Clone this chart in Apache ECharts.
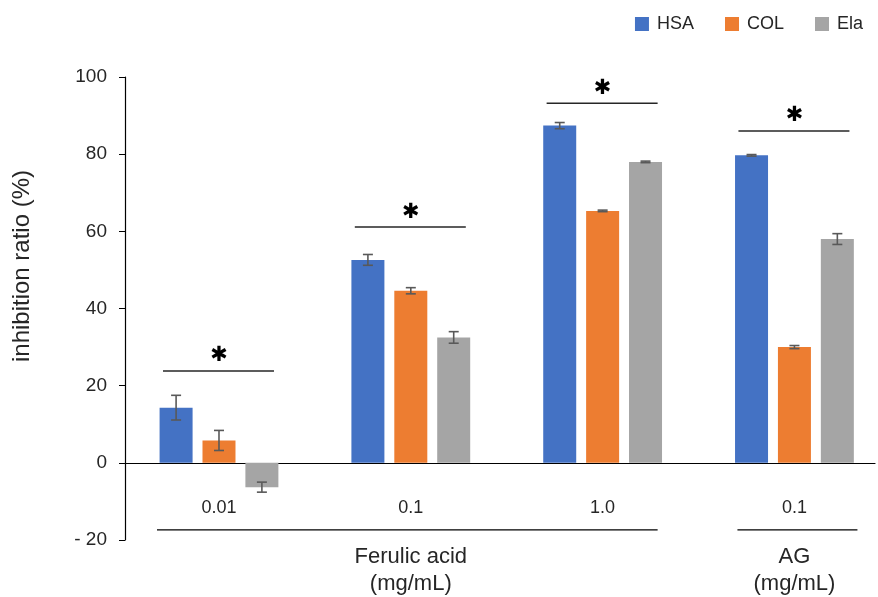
<!DOCTYPE html>
<html>
<head>
<meta charset="utf-8">
<script src="https://cdn.jsdelivr.net/npm/echarts@6/dist/echarts.min.js"></script>
<style>
  html, body { margin: 0; padding: 0; background: #fff; }
  #chart { width: 878px; height: 597px; }
</style>
</head>
<body>
<div id="chart"></div>
<script>
// data
const groups = [0, 1, 2, 3];
const doseLabels = ['0.01', '0.1', '1.0', '0.1'];
const seriesNames = ['HSA', 'COL', 'Ela'];
const hsa = [14.3, 52.6, 87.4, 79.7];
const hsaErr = [3.2, 1.4, 0.8, 0.2];
const col = [5.8, 44.6, 65.3, 30.0];
const colErr = [2.6, 0.8, 0.2, 0.4];
const ela = [-6.3, 32.5, 78.0, 58.0];
const elaErr = [1.3, 1.5, 0.2, 1.4];
const sigLevels = [23.8, 61.1, 93.2, 86.0];

const font = "'Liberation Sans', Arial, sans-serif";
const colors = ['#4472C4', '#ED7D31', '#A5A5A5'];
const BAR_W = 33;
const BAR_GAP = 0.3;

const values = [hsa, col, ela];
const errs = [hsaErr, colErr, elaErr];

// error bar points: [group, value, err, series index]
const errData = [];
values.forEach((arr, s) => {
  arr.forEach((v, i) => errData.push([groups[i], v, errs[s][i], s]));
});

const chart = echarts.init(document.getElementById('chart'));

const option = {
  backgroundColor: '#fff',
  animation: false,
  color: colors,
  textStyle: { fontFamily: font },
  legend: {
    data: seriesNames,
    top: 10,
    right: 10,
    itemWidth: 14,
    itemHeight: 14,
    itemGap: 31,
    icon: 'rect',
    textStyle: { fontSize: 18, color: '#262626', fontFamily: font, padding: [0, 0, 0, 3] }
  },
  grid: {
    left: 125,
    top: 77,
    right: 3,
    bottom: 57
  },
  xAxis: {
    type: 'value',
    min: -0.49,
    max: 3.42,
    axisLine: { onZero: true, lineStyle: { color: '#000', width: 1.2 } },
    axisTick: { show: false },
    axisLabel: { show: false },
    splitLine: { show: false }
  },
  yAxis: {
    type: 'value',
    min: -20,
    max: 100,
    interval: 20,
    axisLine: { show: true, onZero: false, lineStyle: { color: '#000', width: 1.2 } },
    axisTick: { show: true, inside: false, length: 6, lineStyle: { color: '#000' } },
    axisLabel: {
      fontSize: 19,
      color: '#262626',
      fontFamily: font,
      margin: 18,
      formatter: v => (v < 0 ? '- ' + Math.abs(v) : String(v))
    },
    splitLine: { show: false }
  },
  series: [
    ...seriesNames.map((name, s) => ({
      name: name,
      type: 'bar',
      data: values[s].map((v, i) => [groups[i], v]),
      barWidth: BAR_W,
      barGap: (BAR_GAP * 100) + '%',
      itemStyle: { color: colors[s] }
    })),
    {
      name: 'err',
      type: 'custom',
      data: errData,
      z: 5,
      renderItem: function (params, api) {
        const i = api.value(0), v = api.value(1), e = api.value(2), s = api.value(3);
        const off = (s - 1) * BAR_W * (1 + BAR_GAP);
        const top = api.coord([i, v + e]);
        const bot = api.coord([i, v - e]);
        const x = top[0] + off;
        const cap = 5;
        const st = { stroke: '#595959', lineWidth: 1.6 };
        return {
          type: 'group',
          children: [
            { type: 'line', shape: { x1: x, y1: top[1], x2: x, y2: bot[1] }, style: st },
            { type: 'line', shape: { x1: x - cap, y1: top[1], x2: x + cap, y2: top[1] }, style: st },
            { type: 'line', shape: { x1: x - cap, y1: bot[1], x2: x + cap, y2: bot[1] }, style: st }
          ]
        };
      }
    },
    {
      name: 'sig',
      type: 'custom',
      data: sigLevels.map((v, i) => [groups[i], v]),
      z: 5,
      renderItem: function (params, api) {
        const p = api.coord([api.value(0), api.value(1)]);
        return {
          type: 'group',
          children: [
            { type: 'line', shape: { x1: p[0] - 56, y1: p[1], x2: p[0] + 55, y2: p[1] },
              style: { stroke: '#262626', lineWidth: 1.5 } },
            { type: 'text', x: p[0], y: p[1] - 15,
              style: { text: '\u2731', fontSize: 21, fill: '#000',
                       fontFamily: "'DejaVu Sans', sans-serif", align: 'center', verticalAlign: 'middle' } }
          ]
        };
      }
    },
    {
      // dose labels under the zero line
      name: 'dose',
      type: 'custom',
      data: groups.map(g => [g, 0]),
      silent: true,
      clip: false,
      renderItem: function (params, api) {
        const p = api.coord([api.value(0), 0]);
        return {
          type: 'text', x: p[0], y: p[1] + 45,
          style: { text: doseLabels[params.dataIndex], fontSize: 18, fill: '#262626',
                   fontFamily: font, align: 'center', verticalAlign: 'middle' }
        };
      }
    }
  ]
};

chart.setOption(option);

// group brackets under the dose labels
function px(i, v) { return chart.convertToPixel({ gridIndex: 0 }, [i, v]); }
const yBracket = px(0, -17.4)[1];
const faL = px(0, 0)[0] - 62, faR = px(2, 0)[0] + 55;
const agL = px(3, 0)[0] - 57, agR = px(3, 0)[0] + 63;
const groupText = { fontSize: 22, fill: '#262626', fontFamily: font, align: 'center', verticalAlign: 'top', lineHeight: 27 };

chart.setOption({
  graphic: [
    { type: 'line', shape: { x1: faL, y1: yBracket, x2: faR, y2: yBracket }, style: { stroke: '#000', lineWidth: 1.2 } },
    { type: 'line', shape: { x1: agL, y1: yBracket, x2: agR, y2: yBracket }, style: { stroke: '#000', lineWidth: 1.2 } },
    { type: 'text', x: px(1, 0)[0], y: yBracket + 13, style: Object.assign({ text: 'Ferulic acid\n(mg/mL)' }, groupText) },
    { type: 'text', x: px(3, 0)[0], y: yBracket + 13, style: Object.assign({ text: 'AG\n(mg/mL)' }, groupText) },
    { type: 'text', x: 22, y: 266, rotation: Math.PI / 2,
      style: { text: 'inhibition ratio (%)', fontSize: 24, fill: '#262626', fontFamily: font, align: 'center', verticalAlign: 'middle' } }
  ]
});
</script>
</body>
</html>
